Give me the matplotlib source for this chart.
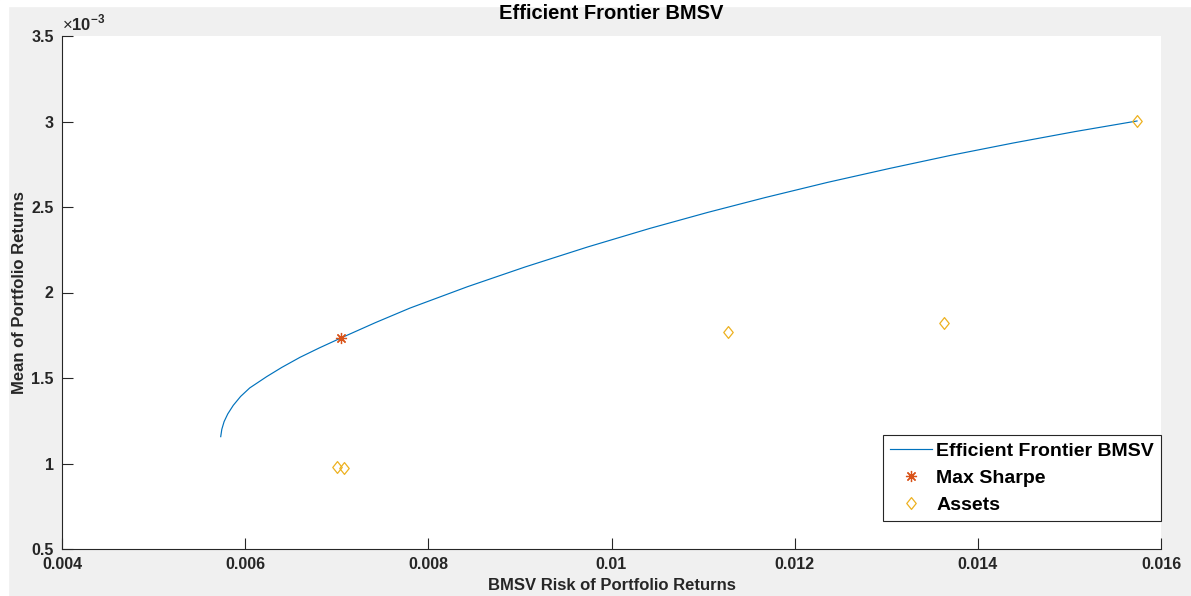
import matplotlib
matplotlib.use('Agg')
import matplotlib.pyplot as plt
from matplotlib.patches import Rectangle
from matplotlib.path import Path
from matplotlib.ticker import FuncFormatter

plt.rcParams['font.family'] = ['Liberation Sans', 'DejaVu Sans']
plt.rcParams['mathtext.fontset'] = 'custom'
plt.rcParams['mathtext.rm'] = 'Liberation Sans'
plt.rcParams['mathtext.bf'] = 'Liberation Sans:bold'

# frontier (risk, mean*1e3)
frontier_risk = [0.005733, 0.005745, 0.005770, 0.005810, 0.005870, 0.005950, 0.006050,
                 0.006235, 0.006400, 0.006599, 0.006810, 0.007046, 0.007423, 0.007800,
                 0.008428, 0.009055, 0.009738, 0.010420, 0.011048, 0.011676, 0.012359,
                 0.013041, 0.013713, 0.014384, 0.015061, 0.015738]
frontier_mean = [1.157, 1.200, 1.245, 1.290, 1.340, 1.392, 1.442,
                 1.508, 1.562, 1.621, 1.676, 1.734, 1.824, 1.909,
                 2.034, 2.149, 2.266, 2.375, 2.468, 2.555, 2.644,
                 2.726, 2.803, 2.874, 2.941, 3.003]

sharpe_risk = [0.007046]
sharpe_mean = [1.734]

asset_risk = [0.007006, 0.007079, 0.011276, 0.013634, 0.015741]
asset_mean = [0.981, 0.972, 1.769, 1.823, 3.005]

xticks = [0.004, 0.006, 0.008, 0.01, 0.012, 0.014, 0.016]
yticks = [0.5, 1, 1.5, 2, 2.5, 3, 3.5]

blue, red, yellow = '#0072BD', '#D95319', '#EDB120'
dark = '#262626'

# matlab-ish diamond, a bit taller than wide
diamond = Path([(0, 1), (0.8, 0), (0, -1), (-0.8, 0), (0, 1)],
               [Path.MOVETO, Path.LINETO, Path.LINETO, Path.LINETO, Path.CLOSEPOLY])

fig = plt.figure(figsize=(11.91, 5.96), dpi=100, facecolor='#f0f0f0')
# white strips of the screenshot border (behind everything)
fig.patches.append(Rectangle((0, 1 - 6/596), 1, 6/596, transform=fig.transFigure, color='white', zorder=-5))
fig.patches.append(Rectangle((0, 0), 8/1191, 1, transform=fig.transFigure, color='white', zorder=-5))

ax = fig.add_axes([62/1191, 1 - 549/596, 1099/1191, 513/596])
ax.set_facecolor('white')

ax.plot(frontier_risk, [v * 1e-3 for v in frontier_mean], color=blue, lw=0.85,
        label='Efficient Frontier BMSV')
ax.plot(sharpe_risk, [v * 1e-3 for v in sharpe_mean], ls='none', marker=(8, 2, 0),
        ms=8, mew=0.9, color=red, label='Max Sharpe')
ax.plot(asset_risk, [v * 1e-3 for v in asset_mean], ls='none', marker=diamond,
        ms=8.5, mfc='none', mec=yellow, mew=0.9, label='Assets')

ax.set_xlim(0.004, 0.016)
ax.set_ylim(0.5e-3, 3.5e-3)
ax.set_xticks(xticks)
ax.set_yticks([v * 1e-3 for v in yticks])
ax.xaxis.set_major_formatter(FuncFormatter(lambda v, p: '%g' % round(v, 6)))
ax.yaxis.set_major_formatter(FuncFormatter(lambda v, p: '%g' % round(v * 1e3, 4)))

for s in ['top', 'right']:
    ax.spines[s].set_visible(False)
for s in ['left', 'bottom']:
    ax.spines[s].set_color(dark)
    ax.spines[s].set_linewidth(0.8)
ax.tick_params(direction='in', length=8, width=0.8, color=dark, labelcolor=dark,
               labelsize=11.5, pad=6)
for lab in ax.get_xticklabels() + ax.get_yticklabels():
    lab.set_fontweight('bold')

ax.text(0.0, 1.006, r'$\times\mathbf{10}^{\mathbf{-3}}$', transform=ax.transAxes, fontsize=12,
        color=dark, ha='left', va='bottom')

ax.set_title('Efficient Frontier BMSV', fontsize=14.5, fontweight='bold', color='black', pad=12)
ax.set_xlabel('BMSV Risk of Portfolio Returns', fontsize=12, fontweight='bold', color=dark, labelpad=4)
ax.set_ylabel('Mean of Portfolio Returns', fontsize=12, fontweight='bold', color=dark, labelpad=3)

leg = ax.legend(loc='lower right', bbox_to_anchor=(1.0, 28/513), borderaxespad=0,
                fancybox=False, edgecolor=dark, framealpha=1, handlelength=2.15,
                prop={'weight': 'bold', 'size': 14}, labelspacing=0.5,
                borderpad=0.35, handletextpad=0.25)
leg.get_frame().set_linewidth(0.8)

fig.savefig('out.png', dpi=100, facecolor=fig.get_facecolor())
